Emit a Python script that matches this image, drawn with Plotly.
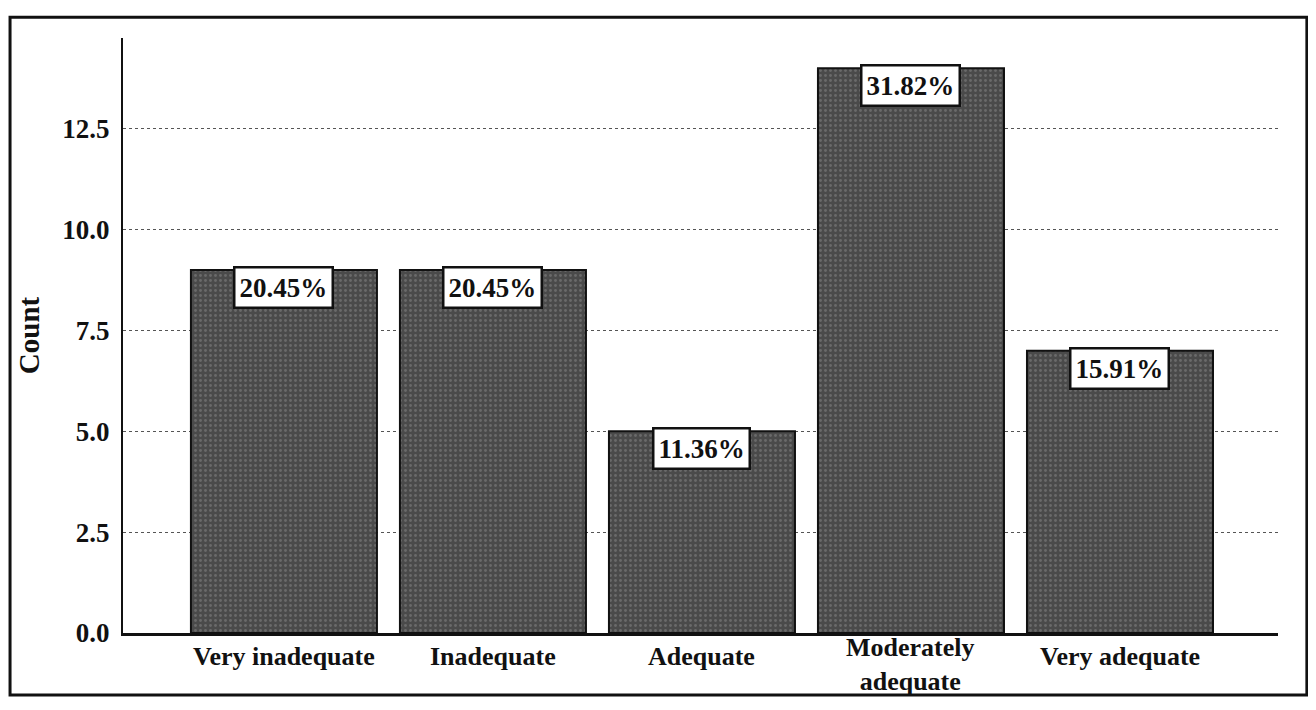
import plotly.graph_objects as go

categories = ["Very inadequate", "Inadequate", "Adequate", "Moderately<br>adequate", "Very adequate"]
counts = [9, 9, 5, 14, 7]
percent_labels = ["20.45%", "20.45%", "11.36%", "31.82%", "15.91%"]
y_ticks = [0.0, 2.5, 5.0, 7.5, 10.0, 12.5]
y_tick_text = ["0.0", "2.5", "5.0", "7.5", "10.0", "12.5"]

SERIF = "Liberation Serif, Times New Roman, serif"

fig = go.Figure()
fig.add_trace(go.Bar(
    x=categories,
    y=counts,
    width=0.89,
    marker=dict(
        color="#505050",
        line=dict(color="#111111", width=2),
        pattern=dict(shape=".", fgcolor="#8a8a8a", bgcolor="#4a4a4a", size=5, solidity=0.25),
    ),
    showlegend=False,
))

for c, v, t in zip(categories, counts, percent_labels):
    fig.add_annotation(
        x=c, y=v, xref="x", yref="y",
        text="<b>" + t + "</b>",
        showarrow=False, yanchor="top", yshift=4,
        font=dict(family=SERIF, size=27, color="#111111"),
        bgcolor="white", bordercolor="#111111", borderwidth=2.5, borderpad=4,
    )

# category labels, vertically centred below the axis
for c in categories:
    two_line = "<br>" in c
    fig.add_annotation(
        x=c, y=-0.053 if two_line else -0.039, xref="x", yref="paper",
        text="<b>" + c + "</b>", showarrow=False,
        xanchor="center", yanchor="middle", align="center",
        font=dict(family=SERIF, size=26, color="#111111"),
    )

# outer frame
fig.add_shape(type="rect", xref="paper", yref="paper",
              x0=-0.0978, x1=1.025, y0=-0.104, y1=1.035,
              line=dict(color="#111111", width=3), fillcolor="rgba(0,0,0,0)", layer="below")

fig.update_layout(
    width=1300, height=694,
    margin=dict(l=115, r=30, t=30, b=69, autoexpand=False),
    paper_bgcolor="white", plot_bgcolor="white",
    font=dict(family=SERIF, color="#111111"),
)
fig.update_xaxes(
    range=[-0.77, 4.756], automargin=False,
    showline=True, linecolor="#111111", linewidth=3,
    showgrid=False, ticks="", showticklabels=False,
)
fig.update_yaxes(
    range=[0, 14.75], automargin=False,
    tickvals=y_ticks, ticktext=y_tick_text,
    showline=True, linecolor="#111111", linewidth=2,
    showgrid=True, gridcolor="#555555", griddash="dot", gridwidth=1,
    zeroline=False, ticks="", ticklabelstandoff=6,
    tickfont=dict(family=SERIF, size=27, color="#111111", weight="bold"),
    title=dict(text="<b>Count</b>", font=dict(family=SERIF, size=29, color="#111111"), standoff=14),
)

fig.write_html("out.html")
